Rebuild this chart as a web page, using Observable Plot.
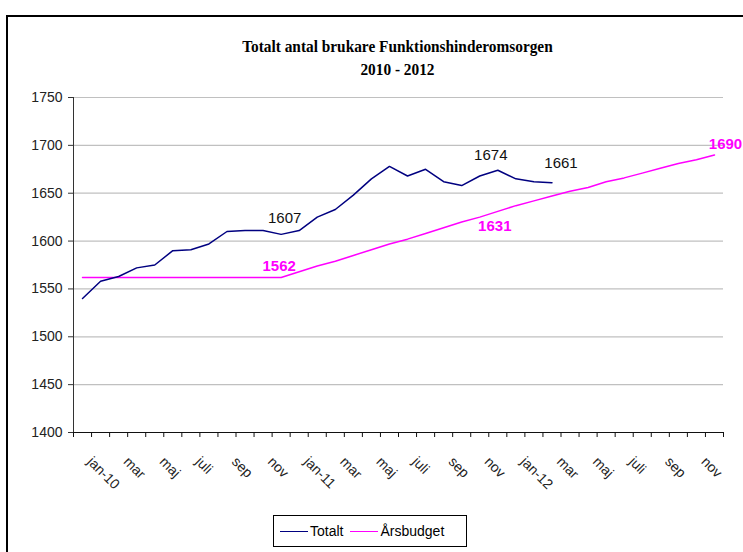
<!DOCTYPE html>
<html>
<head>
<meta charset="utf-8">
<script src="https://cdn.jsdelivr.net/npm/d3@7"></script>
<script src="https://cdn.jsdelivr.net/npm/@observablehq/plot@0.6"></script>
<style>
  html, body { margin: 0; padding: 0; background: #fff; width: 743px; height: 552px; overflow: hidden; }
  #frame { position: absolute; left: 6px; top: 15px; width: 800px; height: 600px; border-left: 2px solid #000; border-top: 2px solid #000; }
  #chart { position: absolute; left: 0; top: 0; }
  #title { position: absolute; left: 0; width: 795px; top: 35px; text-align: center; font-family: "Liberation Serif", "Times New Roman", serif; font-weight: bold; font-size: 16.5px; line-height: 23px; color: #000; transform: scaleX(0.93); transform-origin: 397px 0; }
  #legend { position: absolute; left: 273px; top: 515px; width: 192px; height: 30px; border: 1px solid #000; background: #fff; font-family: "Liberation Sans", Arial, sans-serif; font-size: 14px; display: flex; align-items: center; }
  #legend .sw { display: inline-block; width: 28px; height: 0; border-top: 1.5px solid; margin-left: 6px; margin-right: 6px; }
</style>
</head>
<body>
<div id="chart"></div>
<div id="frame"></div>
<div id="title">Totalt antal brukare Funktionshinderomsorgen<br>2010 - 2012</div>
<div id="legend"></div>
<script>
// ---- data ----
const months = ["jan-10","feb","mar","apr","maj","juni","juli","aug","sep","okt","nov","dec",
                "jan-11","feb","mar","apr","maj","juni","juli","aug","sep","okt","nov","dec",
                "jan-12","feb","mar","apr","maj","juni","juli","aug","sep","okt","nov","dec"];
const totalt = [1540,1558,1563,1572,1575,1590,1591,1597,1610,1611,1611,1607,
                1611,1625,1633,1648,1665,1678,1668,1675,1662,1658,1668,1674,
                1665,1662,1661];
const arsbudget = [1562,1562,1562,1562,1562,1562,1562,1562,1562,1562,1562,1562,
                   1568,1574,1579,1585,1591,1597,1602,1608,1614,1620,1625,1631,
                   1637,1642,1647,1652,1656,1662,1666,1671,1676,1681,1685,1690];
const yTicks = [1400,1450,1500,1550,1600,1650,1700,1750];
const seriesNames = ["Totalt","Årsbudget"];
const colors = ["#000080","#ff00ff"];

// ---- derived tables ----
const totData = totalt.map((v, i) => ({i, v}));
const budData = arsbudget.map((v, i) => ({i, v}));
const labelIdx = months.map((m, i) => i).filter(i => i % 2 === 0);
const boundaries = d3.range(0, months.length + 1).map(k => k - 0.5);
const pt = (arr, i) => [{i, v: arr[i]}];

const chart = Plot.plot({
  width: 743,
  height: 552,
  marginTop: 97,
  marginBottom: 120,
  marginLeft: 73,
  marginRight: 20,
  style: {fontFamily: "'Liberation Sans', Arial, sans-serif", fontSize: "14px", background: "transparent", overflow: "visible"},
  x: {type: "linear", domain: [-0.5, months.length - 0.5]},
  y: {domain: [1400, 1750]},
  marks: [
    Plot.gridY({ticks: yTicks, stroke: "#c0c0c0", strokeOpacity: 1, strokeWidth: 1.2}),
    Plot.axisY({ticks: yTicks, tickFormat: d3.format("d"), tickSize: 5, tickPadding: 6, fontSize: 14, label: null, stroke: "#333", color: "#222"}),
    Plot.ruleX([-0.5], {stroke: "#333"}),
    Plot.ruleY([1400], {stroke: "#111"}),
    Plot.axisX({ticks: boundaries, tickSize: 5, tickFormat: () => "", label: null, stroke: "#111"}),
    Plot.text(labelIdx, {x: d => d, frameAnchor: "bottom", text: d => months[d], rotate: 45,
      textAnchor: "start", lineAnchor: "bottom", dx: 4, dy: 30, fontSize: 14, fill: "#222"}),
    Plot.line(budData, {x: "i", y: "v", stroke: colors[1], strokeWidth: 1.5}),
    Plot.line(totData, {x: "i", y: "v", stroke: colors[0], strokeWidth: 1.5}),
    // data labels
    Plot.text(pt(totalt, 11), {x: "i", y: "v", text: d => String(d.v), dx: 3.5, dy: -16, fontSize: 15, fill: "#111"}),
    Plot.text(pt(totalt, 23), {x: "i", y: "v", text: d => String(d.v), dx: -7, dy: -15, fontSize: 15, fill: "#111"}),
    Plot.text(pt(totalt, 26), {x: "i", y: "v", text: d => String(d.v), dx: 9, dy: -19, fontSize: 15, fill: "#111"}),
    Plot.text(pt(arsbudget, 11), {x: "i", y: "v", text: d => String(d.v), dx: -2, dy: -11, fontSize: 15, fontWeight: "bold", fill: colors[1]}),
    Plot.text(pt(arsbudget, 23), {x: "i", y: "v", text: d => String(d.v), dx: -3, dy: 15, fontSize: 15, fontWeight: "bold", fill: colors[1]}),
    Plot.text(pt(arsbudget, 35), {x: "i", y: "v", text: d => String(d.v), dx: 11, dy: -11, fontSize: 15, fontWeight: "bold", fill: colors[1]})
  ]
});
document.getElementById("chart").appendChild(chart);

// legend
const lg = document.getElementById("legend");
seriesNames.forEach((name, k) => {
  const sw = document.createElement("span");
  sw.className = "sw";
  sw.style.borderColor = colors[k];
  if (k === 1) sw.style.marginLeft = "7px";
  lg.appendChild(sw);
  const t = document.createElement("span");
  t.textContent = name;
  t.style.marginLeft = "-4px";
  lg.appendChild(t);
});
</script>
</body>
</html>
